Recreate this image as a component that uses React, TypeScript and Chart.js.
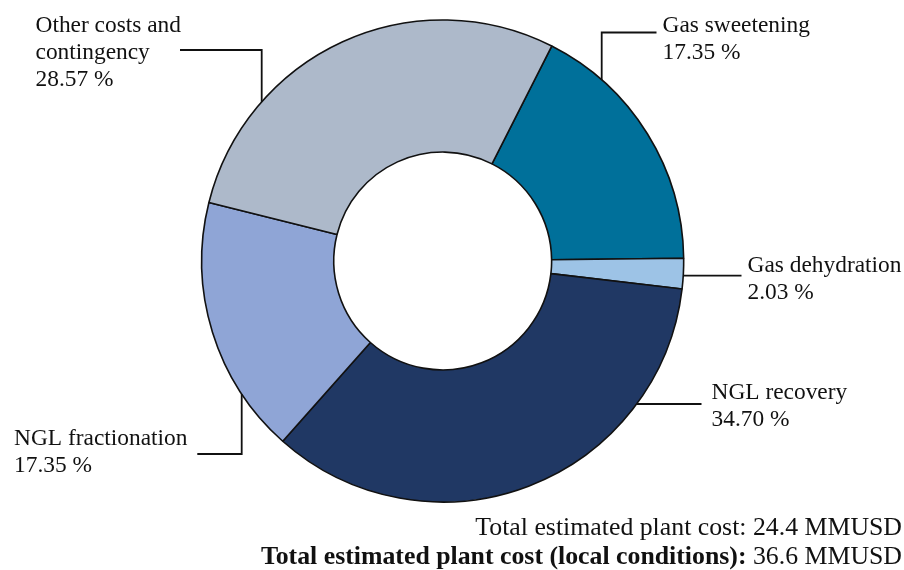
import React, { useEffect, useRef } from "react";
import { Chart, registerables } from "chart.js";

Chart.register(...registerables);

// Capital cost breakdown of the gas processing plant (% of total)
const CATEGORY_LINES: string[][] = [
  ["Gas sweetening"],
  ["Gas dehydration"],
  ["NGL recovery"],
  ["NGL fractionation"],
  ["Other costs and", "contingency"],
];
const CATEGORIES = CATEGORY_LINES.map((l) => l.join(" "));
const SHARES = [17.35, 2.03, 34.7, 17.35, 28.57];
const COLORS = ["#00709A", "#9DC3E6", "#203864", "#8FA5D6", "#ADB9CA"];

const TOTAL_COST = 24.4; // MMUSD
const TOTAL_COST_LOCAL = 36.6; // MMUSD

const W = 904;
const H = 570;
const SERIF = '"Liberation Serif", "Times New Roman", serif';

// Callout placement for each slice: leader leaves the ring either
// vertically (at lineX, bending at elbowY) or horizontally (at lineY).
type Callout =
  | { kind: "v"; lineX: number; elbowY: number; endX: number; textX: number; baseY: number }
  | { kind: "h"; lineY: number; endX: number; textX: number; baseY: number };

const CALLOUTS: Callout[] = [
  { kind: "v", lineX: 601.7, elbowY: 32.5, endX: 656.5, textX: 662.5, baseY: 31.5 },
  { kind: "h", lineY: 275.7, endX: 741.5, textX: 747.5, baseY: 271.5 },
  { kind: "h", lineY: 404, endX: 701.5, textX: 711.5, baseY: 398.5 },
  { kind: "v", lineX: 241.7, elbowY: 454, endX: 197.3, textX: 14, baseY: 445 },
  { kind: "v", lineX: 261.7, elbowY: 50, endX: 180, textX: 35.5, baseY: 32 },
];

const LINE_GAP = 27;

const calloutPlugin = {
  id: "callouts",
  afterDraw(chart: any) {
    const ctx: CanvasRenderingContext2D = chart.ctx;
    const arcs = chart.getDatasetMeta(0).data;
    if (!arcs.length) return;
    const { x: cx, y: cy, outerRadius: R } = arcs[0].getProps(["x", "y", "outerRadius"], true);

    ctx.save();
    ctx.strokeStyle = "#111";
    ctx.lineWidth = 1.8;
    ctx.fillStyle = "#111";
    ctx.font = `23.4px ${SERIF}`;
    ctx.textAlign = "left";
    ctx.textBaseline = "alphabetic";

    CALLOUTS.forEach((c, i) => {
      ctx.beginPath();
      if (c.kind === "v") {
        const dx = c.lineX - cx;
        const dy = Math.sqrt(Math.max(R * R - dx * dx, 0));
        const y0 = c.elbowY < cy ? cy - dy : cy + dy;
        ctx.moveTo(c.lineX, y0);
        ctx.lineTo(c.lineX, c.elbowY);
        ctx.lineTo(c.endX, c.elbowY);
      } else {
        const dy = c.lineY - cy;
        const dx = Math.sqrt(Math.max(R * R - dy * dy, 0));
        const x0 = c.endX > cx ? cx + dx : cx - dx;
        ctx.moveTo(x0, c.lineY);
        ctx.lineTo(c.endX, c.lineY);
      }
      ctx.stroke();

      const lines = [...CATEGORY_LINES[i], `${SHARES[i].toFixed(2)} %`];
      lines.forEach((t, k) => ctx.fillText(t, c.textX, c.baseY + k * LINE_GAP));
    });

    // Totals, right aligned at the bottom
    const right = 902;
    ctx.textAlign = "right";
    ctx.font = `25.8px ${SERIF}`;
    ctx.fillText(`Total estimated plant cost: ${TOTAL_COST.toFixed(1)} MMUSD`, right, 535);
    const tail = ` ${TOTAL_COST_LOCAL.toFixed(1)} MMUSD`;
    const tailW = ctx.measureText(tail).width;
    ctx.fillText(tail, right, 563.5);
    ctx.font = `bold 25.8px ${SERIF}`;
    ctx.fillText("Total estimated plant cost (local conditions):", right - tailW, 563.5);
    ctx.restore();
  },
};

export default function App() {
  const ref = useRef<HTMLCanvasElement>(null);

  useEffect(() => {
    if (!ref.current) return;
    const chart = new Chart(ref.current, {
      type: "doughnut",
      data: {
        labels: CATEGORIES,
        datasets: [
          {
            data: SHARES,
            backgroundColor: COLORS,
            borderColor: "#111",
            borderWidth: 1.6,
          },
        ],
      },
      options: {
        responsive: false,
        animation: false,
        devicePixelRatio: 1,
        rotation: 26.9,
        radius: 241,
        cutout: "45.2%",
        layout: { padding: { left: 190, right: 208.6, top: 10, bottom: 58 } },
        plugins: {
          legend: { display: false },
          tooltip: { enabled: false },
        },
      },
      plugins: [calloutPlugin],
    });
    return () => chart.destroy();
  }, []);

  return (
    <div style={{ position: "fixed", left: 0, top: 0, width: W, height: H, background: "#fff" }}>
      <canvas ref={ref} width={W} height={H} style={{ display: "block" }} />
    </div>
  );
}
